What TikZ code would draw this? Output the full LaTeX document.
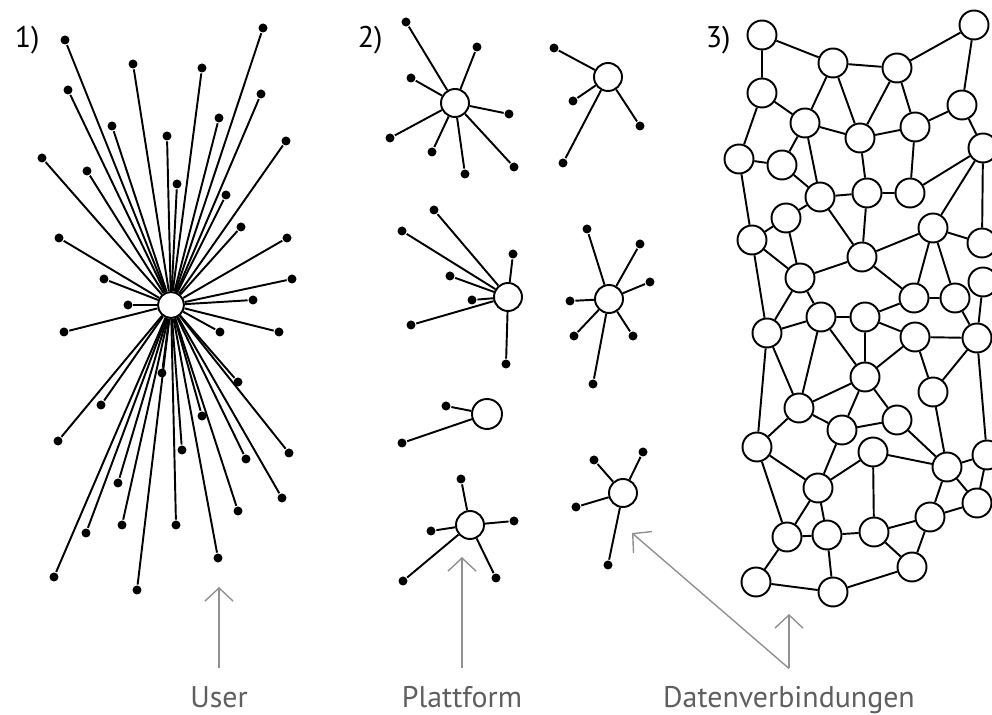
\documentclass[tikz,border=0pt]{standalone}
\usepackage{fontspec}
\setmainfont{PT Sans}
\usetikzlibrary{arrows.meta}
\definecolor{arrowgray}{RGB}{145,145,145}
\definecolor{textgray}{RGB}{95,95,95}

\begin{document}
\begin{tikzpicture}[x=0.02cm, y=-0.02cm, line width=1.1pt]
\tikzstyle{user}=[circle, fill=black, inner sep=0pt, minimum size=0.18cm];
\tikzstyle{hub}=[circle, draw, fill=white, inner sep=0pt, minimum size=0.56cm];
\tikzstyle{site}=[circle, draw, fill=white, inner sep=0pt, minimum size=0.58cm];
\tikzstyle{caption}=[font=\fontsize{17}{20}\selectfont, inner sep=0pt];
\tikzstyle{tag}=[caption, text=textgray, anchor=base, text height=12.5pt, outer sep=10pt];
\tikzstyle{pointer}=[draw=arrowgray, line width=0.8pt, -{Straight Barb[length=7.5pt, width=16pt]}];

\useasboundingbox (0,0) rectangle (992,715);
\clip (0,0) rectangle (992,715);

% 1) central server
\path (171,305) node[hub, minimum size=0.52cm] (c) {};
\foreach \x/\y [count=\i] in {65/40, 263/28, 133/64, 202/68, 68/90, 261/94,
  112/126, 219/118, 167/136, 286/141, 42/158, 87/171, 177/184, 226/195,
  241/227, 59/238, 287/238, 104/279, 292/279, 253/300, 128/305, 64/332,
  220/332, 279/332, 162/373, 238/382, 101/405, 202/416, 58/441, 182/450,
  289/453, 246/459, 118/483, 282/498, 238/511, 86/533, 122/525, 176/525,
  54/577, 137/590, 218/558}
{
\path (\x,\y) node[user] (u\i) {};
\draw (c) -- (u\i);
}

% 2) platforms
\path (455,103) node[hub] (pA) {};
\foreach \x/\y [count=\i] in {406/22, 477/47, 411/78, 509/114, 390/138,
  432/152, 465/174, 514/167}
{
\path (\x,\y) node[user] (a\i) {};
\draw (pA) -- (a\i);
}
\path (608,77) node[hub] (pB) {};
\foreach \x/\y [count=\i] in {554/48, 573/101, 563/163, 640/126}
{
\path (\x,\y) node[user] (b\i) {};
\draw (pB) -- (b\i);
}
\path (508,297) node[hub] (pC) {};
\foreach \x/\y [count=\i] in {434/210, 402/231, 450/276, 472/300, 411/325,
  513/254, 506/364}
{
\path (\x,\y) node[user] (c\i) {};
\draw (pC) -- (c\i);
}
\path (609,299) node[hub] (pD) {};
\foreach \x/\y [count=\i] in {587/229, 640/244, 650/282, 570/301, 574/336,
  633/336, 593/384}
{
\path (\x,\y) node[user] (d\i) {};
\draw (pD) -- (d\i);
}
\path (487,414) node[hub, minimum size=0.6cm] (pE) {};
\foreach \x/\y [count=\i] in {446/406, 402/443}
{
\path (\x,\y) node[user] (e\i) {};
\draw (pE) -- (e\i);
}
\path (470,525) node[hub] (pF) {};
\foreach \x/\y [count=\i] in {461/479, 431/531, 514/521, 403/581, 496/578}
{
\path (\x,\y) node[user] (f\i) {};
\draw (pF) -- (f\i);
}
\path (623,493) node[hub] (pG) {};
\foreach \x/\y [count=\i] in {594/460, 643/452, 576/507, 608/565}
{
\path (\x,\y) node[user] (g\i) {};
\draw (pG) -- (g\i);
}

% 3) mesh
\foreach \x/\y [count=\i] in {762/35, 833/63, 897/68, 974/25, 762/93,
  805/123, 860/138, 915/127, 962/105, 983/148, 739/159, 782/165, 820/197,
  867/193, 910/193, 786/218, 752/240, 800/278, 862/257, 933/228, 982/243,
  983/282, 914/298, 955/298, 821/317, 865/317, 767/333, 915/337, 977/338,
  865/377, 933/392, 799/408, 842/430, 897/420, 757/447, 873/452, 947/467,
  987/455, 818/488, 977/503, 930/517, 787/537, 827/535, 874/532, 912/567,
  756/582, 833/592}
{
\path (\x,\y) node[site] (n\i) {};
}
\draw
(n1) -- (n5) (n1) -- (n2) (n2) -- (n3) (n3) -- (n4) (n4) -- (n9)
(n2) -- (n6) (n2) -- (n7) (n3) -- (n7) (n3) -- (n8) (n5) -- (n6)
(n5) -- (n11) (n6) -- (n7) (n7) -- (n8) (n8) -- (n9) (n9) -- (n10)
(n11) -- (n12) (n6) -- (n12) (n6) -- (n13) (n12) -- (n13) (n13) -- (n16)
(n13) -- (n14) (n14) -- (n15) (n7) -- (n14) (n8) -- (n15) (n15) -- (n10)
(n10) -- (n20) (n10) -- (n21) (n11) -- (n17) (n16) -- (n17) (n17) -- (n18)
(n16) -- (n18) (n13) -- (n19) (n14) -- (n19) (n18) -- (n19) (n19) -- (n20)
(n19) -- (n23) (n20) -- (n23) (n20) -- (n24) (n20) -- (n21) (n23) -- (n24)
(n22) -- (n29) (n24) -- (n29) (n17) -- (n27) (n18) -- (n27) (n18) -- (n25)
(n25) -- (n26) (n26) -- (n23) (n26) -- (n28) (n28) -- (n29) (n27) -- (n25)
(n25) -- (n30) (n26) -- (n30) (n30) -- (n28) (n28) -- (n31) (n31) -- (n29)
(n27) -- (n32) (n25) -- (n32) (n32) -- (n30) (n27) -- (n35) (n32) -- (n35)
(n32) -- (n33) (n30) -- (n33) (n30) -- (n34) (n33) -- (n34) (n31) -- (n37)
(n34) -- (n37) (n29) -- (n38) (n36) -- (n37) (n37) -- (n38) (n38) -- (n40)
(n37) -- (n40) (n37) -- (n41) (n41) -- (n40) (n33) -- (n39) (n35) -- (n39)
(n39) -- (n36) (n35) -- (n42) (n39) -- (n42) (n39) -- (n43) (n42) -- (n43)
(n43) -- (n44) (n36) -- (n44) (n44) -- (n41) (n44) -- (n45) (n41) -- (n45)
(n42) -- (n46) (n43) -- (n47) (n46) -- (n47) (n45) -- (n47);

% numbering
\node[caption, anchor=base west] (one) at (14,48) {1)};
\node[caption, anchor=base west] (two) at (357,48) {2)};
\node[caption, anchor=base west] (three) at (705,48) {3)};

% captions and pointers
\node[tag] (lUser) at (219,708) {User};
\node[tag] (lPlatt) at (462,708) {Plattform};
\node[tag] (lLink) at (789,708) {Datenverbindungen};
\coordinate (tUser) at (219,587);
\coordinate (tPlatt) at (462,557);
\coordinate (tLinkA) at (632,533);
\coordinate (tLinkB) at (789,614);
\draw[pointer] (lUser.north) -- (tUser);
\draw[pointer] (lPlatt.north) -- (tPlatt);
\draw[pointer] (lLink.north) -- (tLinkA);
\draw[pointer] (lLink.north) -- (tLinkB);
\end{tikzpicture}
\end{document}
